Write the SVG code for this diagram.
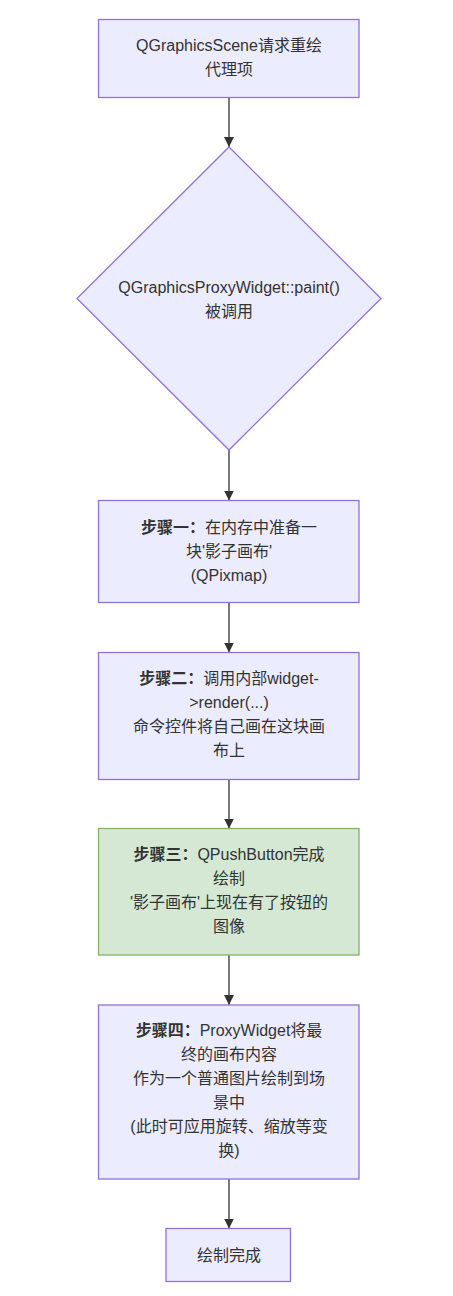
<svg xmlns="http://www.w3.org/2000/svg" width="453" height="1296" viewBox="0 0 453 1296">
<style>
.node{fill:#ECECFF;stroke:#9370DB;stroke-width:1.3}
.green{fill:#d5e8d4;stroke:#82b366;stroke-width:1.3}
.t{font-family:"Liberation Sans","Noto Sans CJK SC",sans-serif;font-size:16px;fill:#333;text-anchor:middle}
.b{font-weight:bold}
.edge{stroke:#333;stroke-width:1.3;fill:none}
</style>
<defs>
<marker id="arr" markerUnits="userSpaceOnUse" markerWidth="10" markerHeight="10" viewBox="0 0 10 10" refX="10" refY="5" orient="auto">
<path d="M0,0 L10,5 L0,10 z" fill="#333"/>
</marker>
</defs>
<rect width="453" height="1296" fill="#ffffff"/>
<g id="connectors">
<path class="edge" d="M229,97.5 L229,147" marker-end="url(#arr)"/>
<path class="edge" d="M229,450 L229,500.5" marker-end="url(#arr)"/>
<path class="edge" d="M229,602.5 L229,652.5" marker-end="url(#arr)"/>
<path class="edge" d="M229,779.5 L229,828.5" marker-end="url(#arr)"/>
<path class="edge" d="M229,955 L229,1005" marker-end="url(#arr)"/>
<path class="edge" d="M229,1179 L229,1228.5" marker-end="url(#arr)"/>
</g>
<g id="n1">
<rect class="node" x="98.5" y="19.5" width="260.5" height="78"/>
<text class="t" x="229" y="51">QGraphicsScene请求重绘</text>
<text class="t" x="229" y="75">代理项</text>
</g>
<g id="n2">
<polygon class="node" points="229,147 381,298.5 229,450 77,298.5"/>
<text class="t" x="229" y="293">QGraphicsProxyWidget::paint()</text>
<text class="t" x="229" y="317">被调用</text>
</g>
<g id="n3">
<rect class="node" x="98.5" y="500.5" width="260.5" height="102"/>
<text class="t" x="229" y="533"><tspan class="b">步骤一：</tspan>在内存中准备一</text>
<text class="t" x="229" y="557">块'影子画布'</text>
<text class="t" x="229" y="581">(QPixmap)</text>
</g>
<g id="n4">
<rect class="node" x="98.5" y="652.5" width="260.5" height="127"/>
<text class="t" x="229" y="684"><tspan class="b">步骤二：</tspan>调用内部widget-</text>
<text class="t" x="229" y="708">&gt;render(...)</text>
<text class="t" x="229" y="732">命令控件将自己画在这块画</text>
<text class="t" x="229" y="756">布上</text>
</g>
<g id="n5">
<rect class="green" x="98.5" y="828.5" width="260.5" height="126.5"/>
<text class="t" x="229" y="860"><tspan class="b">步骤三：</tspan>QPushButton完成</text>
<text class="t" x="229" y="884">绘制</text>
<text class="t" x="229" y="908">'影子画布'上现在有了按钮的</text>
<text class="t" x="229" y="932">图像</text>
</g>
<g id="n6">
<rect class="node" x="98.5" y="1005" width="260.5" height="174"/>
<text class="t" x="229" y="1036"><tspan class="b">步骤四：</tspan>ProxyWidget将最</text>
<text class="t" x="229" y="1060">终的画布内容</text>
<text class="t" x="229" y="1084">作为一个普通图片绘制到场</text>
<text class="t" x="229" y="1108">景中</text>
<text class="t" x="229" y="1132">(此时可应用旋转、缩放等变</text>
<text class="t" x="229" y="1156">换)</text>
</g>
<g id="n7">
<rect class="node" x="166" y="1228.5" width="124.5" height="53"/>
<text class="t" x="229" y="1261">绘制完成</text>
</g>
</svg>
